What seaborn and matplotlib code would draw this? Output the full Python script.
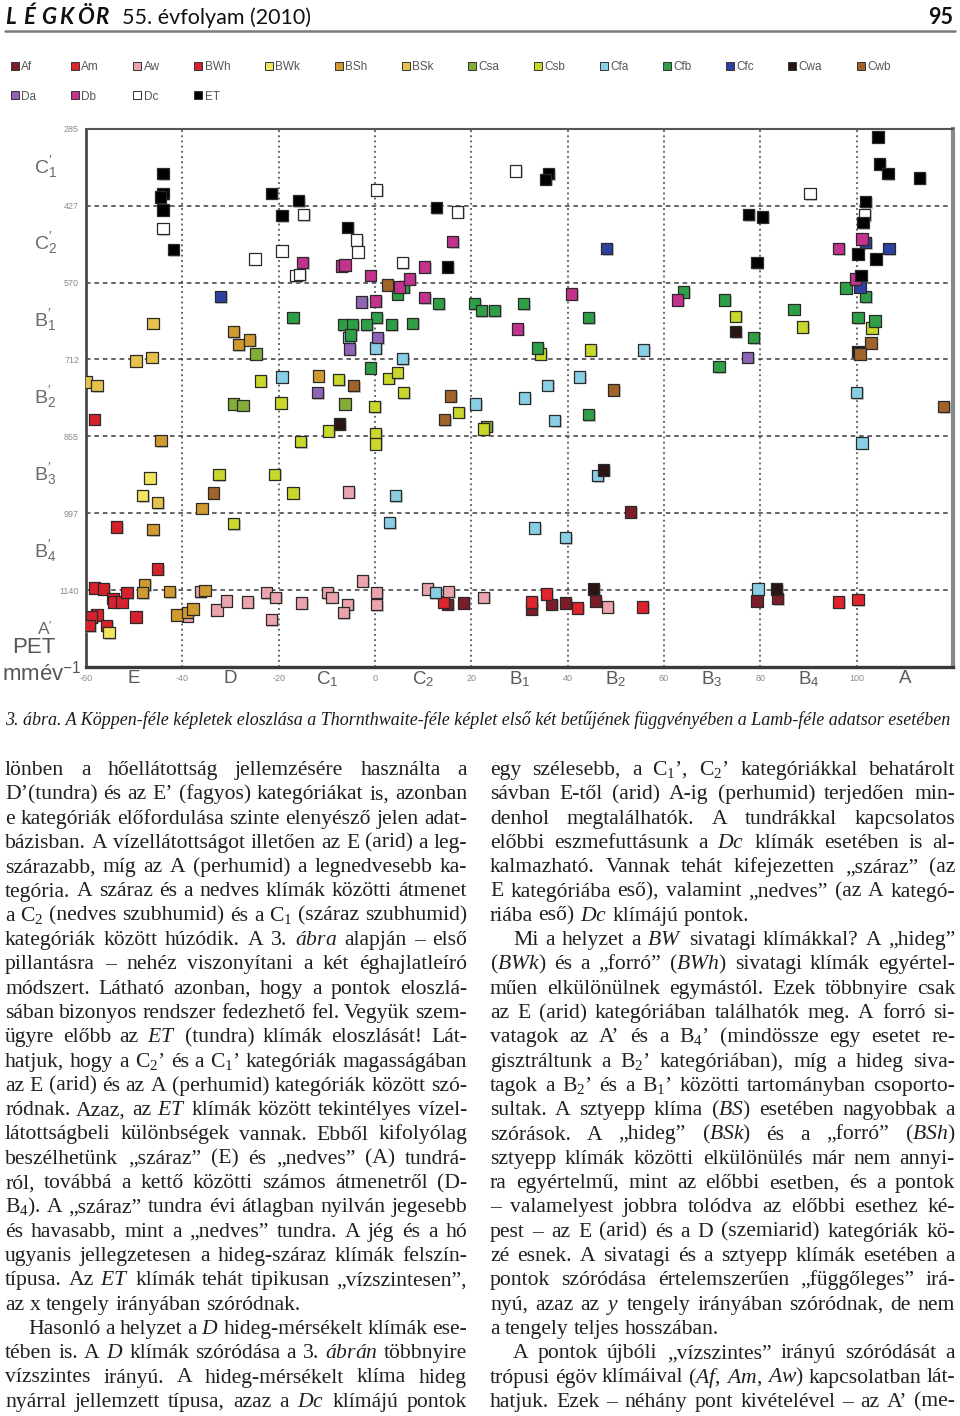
import pandas as pd
import matplotlib
matplotlib.use("Agg")
import matplotlib.pyplot as plt
import matplotlib.patheffects as pe
from matplotlib.lines import Line2D
import seaborn as sns

# points: (Thornthwaite moisture index, PET in mm/year)
AF_PTS = [(15.0, 1166), (18.4, 1164), (32.5, 1175), (36.7, 1166), (39.6, 1164), (45.8, 1160),
          (53.1, 995), (79.3, 1160), (83.6, 1155)]
AM_PTS = [(14.2, 1162), (32.5, 1162), (35.6, 1147), (42.1, 1173), (55.6, 1171), (96.3, 1162),
          (100.3, 1158)]
AW_PTS = [(-39.0, 1188), (-36.3, 1142), (-32.8, 1177), (-30.9, 1160), (-26.5, 1162), (-22.6, 1145),
          (-20.7, 1153), (-21.5, 1195), (-15.3, 1164), (-9.9, 1145), (-8.9, 1153), (-5.7, 1166),
          (-6.6, 1182), (-5.5, 958), (-2.6, 1123), (0.3, 1145), (0.3, 1167), (10.9, 1138),
          (15.2, 1143), (22.5, 1153), (48.3, 1171)]
BWH_PTS = [(-58.3, 823), (-53.6, 1023), (-45.2, 1101), (-58.3, 1136), (-56.3, 1138), (-54.4, 1156),
           (-54.2, 1162), (-52.5, 1162), (-51.5, 1145), (-49.6, 1190), (-57.7, 1186), (-58.8, 1190),
           (-59.2, 1205), (-55.8, 1206)]
BWK_PTS = [(-46.7, 932), (-48.2, 964), (-55.2, 1219)]
BSH_PTS = [(-29.4, 660), (-28.4, 685), (-26.1, 676), (-11.8, 743), (-44.4, 862), (-46.1, 1028),
           (-35.9, 988), (-47.9, 1129), (-48.2, 1145), (-42.7, 1143), (-41.1, 1186), (-39.0, 1182),
           (-37.8, 1175), (-35.3, 1140)]
BSK_PTS = [(-46.1, 645), (-46.3, 708), (-49.6, 715), (-60.0, 754), (-57.7, 761), (-45.2, 977)]
CSA_PTS = [(-24.7, 702), (-29.4, 795), (-27.4, 797), (23.1, 836), (-6.2, 795)]
CSB_PTS = [(-23.8, 752), (-19.5, 793), (34.4, 702), (44.8, 695), (74.9, 632), (88.8, 652),
           (103.2, 654), (-7.6, 750), (2.8, 747), (4.6, 737), (5.9, 773), (-0.1, 799), (-9.7, 845),
           (0.1, 850), (0.1, 869), (17.3, 810), (22.5, 841), (-32.4, 926), (-20.9, 925),
           (-17.0, 960), (-15.5, 865), (-29.4, 1017)]
CFA_PTS = [(-19.3, 745), (-5.5, 672), (0.1, 691), (55.8, 695), (5.7, 711), (42.5, 745), (35.8, 760),
           (31.0, 784), (20.9, 795), (37.3, 825), (46.2, 928), (4.2, 965), (3.0, 1015), (33.1, 1025),
           (39.6, 1043), (12.5, 1145), (100.0, 773), (101.1, 867), (79.5, 1138)]
CFB_PTS = [(-17.0, 634), (5.9, 578), (4.6, 591), (13.2, 608), (20.6, 609), (22.1, 621), (24.8, 621),
           (30.8, 609), (44.3, 635), (0.3, 635), (-6.6, 648), (-4.7, 648), (-1.8, 648), (3.4, 648),
           (7.8, 645), (-5.1, 667), (33.7, 691), (-1.0, 728), (44.3, 815), (64.1, 587), (72.6, 602),
           (78.6, 672), (87.0, 619), (100.3, 635), (103.8, 641), (97.8, 580), (101.9, 595),
           (71.4, 726)]
CFC_PTS = [(-32.1, 595), (48.1, 506), (101.9, 496), (106.7, 507), (100.7, 578)]
CWA_PTS = [(100.3, 697), (-7.4, 832), (47.5, 917), (83.4, 1138), (45.4, 1138), (74.9, 661)]
CWB_PTS = [(2.6, 574), (-4.5, 761), (49.5, 769), (15.7, 780), (14.4, 824), (103.0, 682),
           (100.7, 702), (118.1, 800), (-33.6, 960)]
DA_PTS = [(-12.0, 773), (-2.8, 606), (0.5, 672), (-5.3, 693), (77.4, 708)]
DB_PTS = [(-15.1, 532), (16.1, 494), (-7.0, 539), (-6.2, 537), (10.3, 541), (-1.0, 556), (5.1, 578),
          (7.1, 563), (0.1, 604), (10.3, 598), (40.8, 591), (29.6, 656), (101.1, 489), (96.3, 506),
          (99.8, 563), (62.8, 602)]
DC_PTS = [(-44.0, 469), (-14.9, 443), (-19.3, 511), (-24.9, 526), (-16.4, 557), (-15.7, 555),
          (0.3, 398), (29.2, 363), (17.1, 439), (-3.9, 491), (-3.5, 513), (5.7, 532), (90.3, 405),
          (101.7, 443)]
ET_PTS = [(-44.0, 368), (-44.0, 405), (-44.6, 411), (-44.0, 435), (-41.9, 509), (-21.5, 404),
          (-15.9, 418), (-19.3, 446), (12.7, 430), (-5.7, 467), (15.0, 541), (36.0, 368),
          (35.4, 378), (104.4, 300), (104.8, 350), (106.5, 368), (113.1, 376), (101.9, 420),
          (101.3, 459), (77.6, 443), (80.5, 448), (100.3, 517), (104.0, 526), (79.3, 532),
          (100.9, 556)]

CLASSES = ["Af", "Am", "Aw", "BWh", "BWk", "BSh", "BSk", "Csa", "Csb", "Cfa", "Cfb", "Cfc",
           "Cwa", "Cwb", "Da", "Db", "Dc", "ET"]
CLASS_PTS = [AF_PTS, AM_PTS, AW_PTS, BWH_PTS, BWK_PTS, BSH_PTS, BSK_PTS, CSA_PTS, CSB_PTS,
             CFA_PTS, CFB_PTS, CFC_PTS, CWA_PTS, CWB_PTS, DA_PTS, DB_PTS, DC_PTS, ET_PTS]
COLORS = ["#7c1d2a", "#e0242e", "#eba3ad", "#d6222c", "#f2e65e", "#cf9b30", "#e5c24c", "#83ad36",
          "#cad72b", "#88cfe6", "#2f9f47", "#2e40a0", "#2a1515", "#a2632b", "#8f63b5", "#c3328d",
          "#ffffff", "#000000"]

X_TICKS = [-60, -40, -20, 0, 20, 40, 60, 80, 100]
X_CLASS_POS = [-50, -30, -10, 10, 30, 50, 70, 90, 110]
X_CLASS = ["E", "D", r"C$_\mathsf{1}$", r"C$_\mathsf{2}$", r"B$_\mathsf{1}$", r"B$_\mathsf{2}$",
           r"B$_\mathsf{3}$", r"B$_\mathsf{4}$", "A"]
Y_TICKS = [285, 427, 570, 712, 855, 997, 1140]
Y_BOTTOM = 1282.5
Y_CLASS = [r"C$^{\prime}_\mathsf{1}$", r"C$^{\prime}_\mathsf{2}$", r"B$^{\prime}_\mathsf{1}$",
           r"B$^{\prime}_\mathsf{2}$", r"B$^{\prime}_\mathsf{3}$", r"B$^{\prime}_\mathsf{4}$",
           r"A$^{\prime}$"]

CAPTION = ("3. ábra. A Köppen-féle képletek eloszlása a Thornthwaite-féle képlet első két "
           "betűjének függvényében a Lamb-féle adatsor esetében")

LEFT_LINES = [
    "lönben a hőellátottság jellemzésére használta a",
    "D’(tundra) és az E’ (fagyos) kategóriákat is, azonban",
    "e kategóriák előfordulása szinte elenyésző jelen adat-",
    "bázisban. A vízellátottságot illetően az E (arid) a leg-",
    "szárazabb, míg az A (perhumid) a legnedvesebb ka-",
    "tegória. A száraz és a nedves klímák közötti átmenet",
    "a C$_2$ (nedves szubhumid) és a C$_1$ (száraz szubhumid)",
    r"kategóriák között húzódik. A $\mathit{3.}$ $\mathit{ábra}$ alapján – első",
    "pillantásra – nehéz viszonyítani a két éghajlatleíró",
    "módszert. Látható azonban, hogy a pontok eloszlá-",
    "sában bizonyos rendszer fedezhető fel. Vegyük szem-",
    r"ügyre előbb az $\mathit{ET}$ (tundra) klímák eloszlását! Lát-",
    "hatjuk, hogy a C$_2$’ és a C$_1$’ kategóriák magasságában",
    "az E (arid) és az A (perhumid) kategóriák között szó-",
    r"ródnak. Azaz, az $\mathit{ET}$ klímák között tekintélyes vízel-",
    "látottságbeli különbségek vannak. Ebből kifolyólag",
    "beszélhetünk „száraz” (E) és „nedves” (A) tundrá-",
    "ról, továbbá a kettő közötti számos átmenetről (D-",
    "B$_4$). A „száraz” tundra évi átlagban nyilván jegesebb",
    "és havasabb, mint a „nedves” tundra. A jég és a hó",
    "ugyanis jellegzetesen a hideg-száraz klímák felszín-",
    r"típusa. Az $\mathit{ET}$ klímák tehát tipikusan „vízszintesen”,",
    "az x tengely irányában szóródnak.",
    r"Hasonló a helyzet a $\mathit{D}$ hideg-mérsékelt klímák ese-",
    r"tében is. A $\mathit{D}$ klímák szóródása a $\mathit{3.}$ $\mathit{ábrán}$ többnyire",
    "vízszintes irányú. A hideg-mérsékelt klíma hideg",
    r"nyárral jellemzett típusa, azaz a $\mathit{Dc}$ klímájú pontok",
]
LEFT_LAST = [22]
LEFT_INDENT = [23]

RIGHT_LINES = [
    "egy szélesebb, a C$_1$’, C$_2$’ kategóriákkal behatárolt",
    "sávban E-től (arid) A-ig (perhumid) terjedően min-",
    "denhol megtalálhatók. A tundrákkal kapcsolatos",
    r"előbbi eszmefuttásunk a $\mathit{Dc}$ klímák esetében is al-",
    "kalmazható. Vannak tehát kifejezetten „száraz” (az",
    "E kategóriába eső), valamint „nedves” (az A kategó-",
    r"riába eső) $\mathit{Dc}$ klímájú pontok.",
    r"Mi a helyzet a $\mathit{BW}$ sivatagi klímákkal? A „hideg”",
    r"($\mathit{BWk}$) és a „forró” ($\mathit{BWh}$) sivatagi klímák egyértel-",
    "műen elkülönülnek egymástól. Ezek többnyire csak",
    "az E (arid) kategóriában találhatók meg. A forró si-",
    "vatagok az A’ és a B$_4$’ (mindössze egy esetet re-",
    "gisztráltunk a B$_2$’ kategóriában), míg a hideg siva-",
    "tagok a B$_2$’ és a B$_1$’ közötti tartományban csoporto-",
    r"sultak. A sztyepp klíma ($\mathit{BS}$) esetében nagyobbak a",
    r"szórások. A „hideg” ($\mathit{BSk}$) és a „forró” ($\mathit{BSh}$)",
    "sztyepp klímák közötti elkülönülés már nem annyi-",
    "ra egyértelmű, mint az előbbi esetben, és a pontok",
    "– valamelyest jobbra tolódva az előbbi esethez ké-",
    "pest – az E (arid) és a D (szemiarid) kategóriák kö-",
    "zé esnek. A sivatagi és a sztyepp klímák esetében a",
    "pontok szóródása értelemszerűen „függőleges” irá-",
    r"nyú, azaz az $\mathit{y}$ tengely irányában szóródnak, de nem",
    "a tengely teljes hosszában.",
    "A pontok újbóli „vízszintes” irányú szóródását a",
    r"trópusi égöv klímáival ($\mathit{Af}$, $\mathit{Am}$, $\mathit{Aw}$) kapcsolatban lát-",
    "hatjuk. Ezek – néhány pont kivételével – az A’ (me-",
]
RIGHT_LAST = [6, 23]
RIGHT_INDENT = [7, 24]

W, H = 960, 1416

sns.set_style("white")
plt.rcParams.update({
    "font.family": ["Liberation Sans", "DejaVu Sans"],
    "axes.unicode_minus": False,
    "mathtext.fontset": "custom",
    "mathtext.rm": "Liberation Serif",
    "mathtext.it": "Liberation Serif:italic",
    "mathtext.bf": "Liberation Serif:bold",
    "mathtext.sf": "Liberation Sans",
})

rows = []
for cls, pts in zip(CLASSES, CLASS_PTS):
    for x, y in pts:
        rows.append({"cls": cls, "moist": x, "pet": y})
df = pd.DataFrame(rows)
palette = dict(zip(CLASSES, COLORS))

fig = plt.figure(figsize=(W / 100, H / 100), dpi=100)
fig.patch.set_facecolor("white")
ax = fig.add_axes([86 / W, 1 - 667 / H, 867 / W, 538 / H])

sns.scatterplot(data=df, x="moist", y="pet", hue="cls", hue_order=CLASSES, palette=palette,
                marker="s", s=66, edgecolor="#2a2a2a", linewidth=0.9, legend=False, ax=ax,
                zorder=3)
for coll in ax.collections:
    coll.set_path_effects([pe.SimplePatchShadow(offset=(1.2, -1.2), shadow_rgbFace="#9a9a9a",
                                                alpha=0.55), pe.Normal()])

ax.set_xlim(-60, 120)
ax.set_ylim(Y_BOTTOM, Y_TICKS[0])
ax.set_xticks(X_TICKS)
ax.set_xticklabels([str(t) for t in X_TICKS])
ax.set_yticks(Y_TICKS)
ax.set_yticklabels([str(t) for t in Y_TICKS])
ax.set_xlabel("")
ax.set_ylabel("")
ax.tick_params(axis="both", length=3, width=1, color="#444", labelsize=6.5,
               labelcolor="#8a8a8a", pad=2)
ax.grid(axis="x", linestyle=(0, (1.2, 2.2)), color="#3a3a3a", linewidth=1.1)
ax.grid(axis="y", linestyle=(0, (3, 2.5)), color="#3a3a3a", linewidth=1.1)
ax.set_axisbelow(True)
for side, col, lw in [("left", "#4a4a4a", 2.0), ("bottom", "#3a3a3a", 2.4),
                      ("top", "#555555", 1.5), ("right", "#8a8a8a", 3.0)]:
    ax.spines[side].set_visible(True)
    ax.spines[side].set_color(col)
    ax.spines[side].set_linewidth(lw)

# Thornthwaite class names along both axes
for pos, lab in zip(X_CLASS_POS, X_CLASS):
    ax.text(pos, -0.022, lab, transform=ax.get_xaxis_transform(), ha="center", va="center",
            fontsize=13.5, color="#5a5a5a")
y_edges = Y_TICKS + [Y_BOTTOM]
for i, lab in enumerate(Y_CLASS):
    ax.text(-0.047, (y_edges[i] + y_edges[i + 1]) / 2, lab, transform=ax.get_yaxis_transform(),
            ha="center", va="center", fontsize=14 if i < 6 else 12.5, color="#6a6a6a")
fig.text(56 / W, 1 - 647 / H, "PET", ha="right", va="center", fontsize=16, color="#555555")
fig.text(2 / W, 1 - 673 / H, r"mmév$^{\mathsf{-1}}$", ha="left", va="center", fontsize=16,
         color="#555555")

# legend in two rows above the plot
handles = [Line2D([], [], marker="s", linestyle="", markersize=5.5, markerfacecolor=c,
                  markeredgecolor="#333333", markeredgewidth=0.7) for c in COLORS]
order = [0, 14, 1, 15, 2, 16, 3, 17, 4, 5, 6, 7, 8, 9, 10, 11, 12, 13]
ax.legend([handles[i] for i in order], [CLASSES[i] for i in order], loc="upper left",
          bbox_to_anchor=(-0.097, 1.142), ncol=14, frameon=False, fontsize=8.5,
          labelcolor="#555555", columnspacing=2.85, handletextpad=0.15, handlelength=0.8,
          labelspacing=1.5, borderpad=0.2)

# page header
renderer = fig.canvas.get_renderer()
for i, ch in enumerate("LÉGKÖR"):
    fig.text((5 + i * 18) / W, 1 - 24 / H, ch, fontsize=16, family="Lato", weight="bold",
             style="italic", va="baseline", color="#111111")
fig.text(122 / W, 1 - 24 / H, "55. évfolyam (2010)", fontsize=15.5, family="Lato",
         va="baseline", color="#111111")
fig.text(953 / W, 1 - 24 / H, "95", fontsize=15.5, family="Lato", weight="bold",
         va="baseline", ha="right", color="#111111")
fig.add_artist(Line2D([5 / W, 955 / W], [1 - 31 / H] * 2, transform=fig.transFigure,
                      color="#7a7a7a", linewidth=1.8))

# caption, scaled to the column width
cap = fig.text(5 / W, 1 - 725 / H, CAPTION, fontsize=12, family="Liberation Serif",
               style="italic", va="baseline", color="#1a1a1a")
cap.set_fontsize(12 * 947 / cap.get_window_extent(renderer).width)

BODY = 15.6
LEAD = 24.3


def set_column(lines, x0, x1, last, indent):
    for i, line in enumerate(lines):
        y = 775 + i * LEAD
        start = x0 + (23 if i in indent else 0)
        size = BODY
        while True:
            arts = [fig.text(0, 0, w, fontsize=size, family="Liberation Serif", va="baseline",
                             ha="left", color="#231f20") for w in line.split(" ")]
            widths = [a.get_window_extent(renderer).width for a in arts]
            if i in last or len(arts) == 1:
                gap = 0.25 * size * 100 / 72
                break
            gap = (x1 - start - sum(widths)) / (len(arts) - 1)
            if gap >= 3.0 or size < 12:
                break
            for a in arts:
                a.remove()
            size -= 0.2
        x = start
        for a, w in zip(arts, widths):
            a.set_position((x / W, 1 - y / H))
            x += w + gap


set_column(LEFT_LINES, 5, 467, LEFT_LAST, LEFT_INDENT)
set_column(RIGHT_LINES, 490, 955, RIGHT_LAST, RIGHT_INDENT)

fig.savefig("out.png", dpi=100, facecolor="white")
